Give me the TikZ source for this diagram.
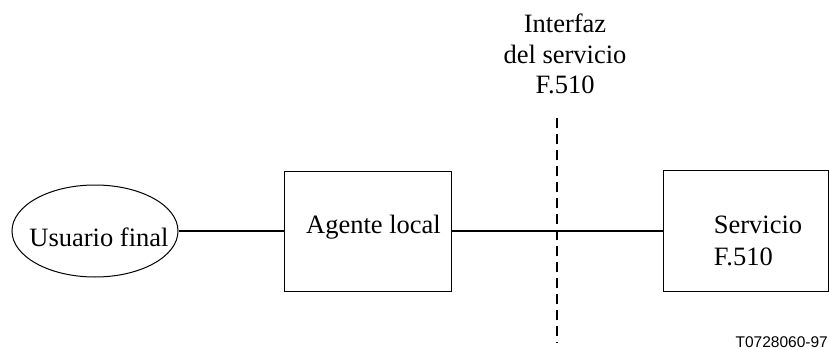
\documentclass[tikz,border=0pt]{standalone}
\usepackage{fontspec}
\setmainfont{Liberation Serif}
\newfontfamily\idfont{Liberation Sans}
\usetikzlibrary{shapes.geometric}
\begin{document}
\begin{tikzpicture}[x=1pt,y=-1pt,
  wire/.style={line width=1.8pt},
  frame/.style={draw, line width=1pt, inner sep=0pt},
  txt/.style={font=\fontsize{26.5}{30.5}\selectfont, inner sep=0pt},
]
\useasboundingbox (0,0) rectangle (829,350);

% end user, local agent and the F.510 service
\node[frame, ellipse, minimum width=166pt, minimum height=92pt,
  label={[txt,xshift=4pt,yshift=-6pt]center:Usuario final}] (user) at (95,231) {};
\node[frame, rectangle, minimum width=167pt, minimum height=120pt,
  label={[txt,xshift=6pt,yshift=4pt]center:Agente local}] (agent) at (367.5,231) {};
\node[frame, rectangle, minimum width=165pt, minimum height=121pt,
  label={[txt,align=left,font=\fontsize{26.5}{32}\selectfont,xshift=12.5pt,yshift=-9.5pt]center:{Servicio\\F.510}}] (service) at (745.5,231) {};

% service interface
\node[txt, align=center] (iface) at (565,54) {Interfaz\\del servicio\\F.510};
\coordinate (cutTop) at (557,118);
\coordinate (cutBot) at (557,343);
\draw[wire, dash pattern=on 10pt off 6pt] (cutTop) -- (cutBot);

% links
\draw[wire] (user.east) -- (agent.west);
\draw[wire] (agent.east) -- (service.west);

% figure id
\node[font=\idfont\fontsize{15.5}{18}\selectfont, anchor=base east, inner sep=0pt] (figid) at (828,347) {T0728060-97};
\end{tikzpicture}
\end{document}
